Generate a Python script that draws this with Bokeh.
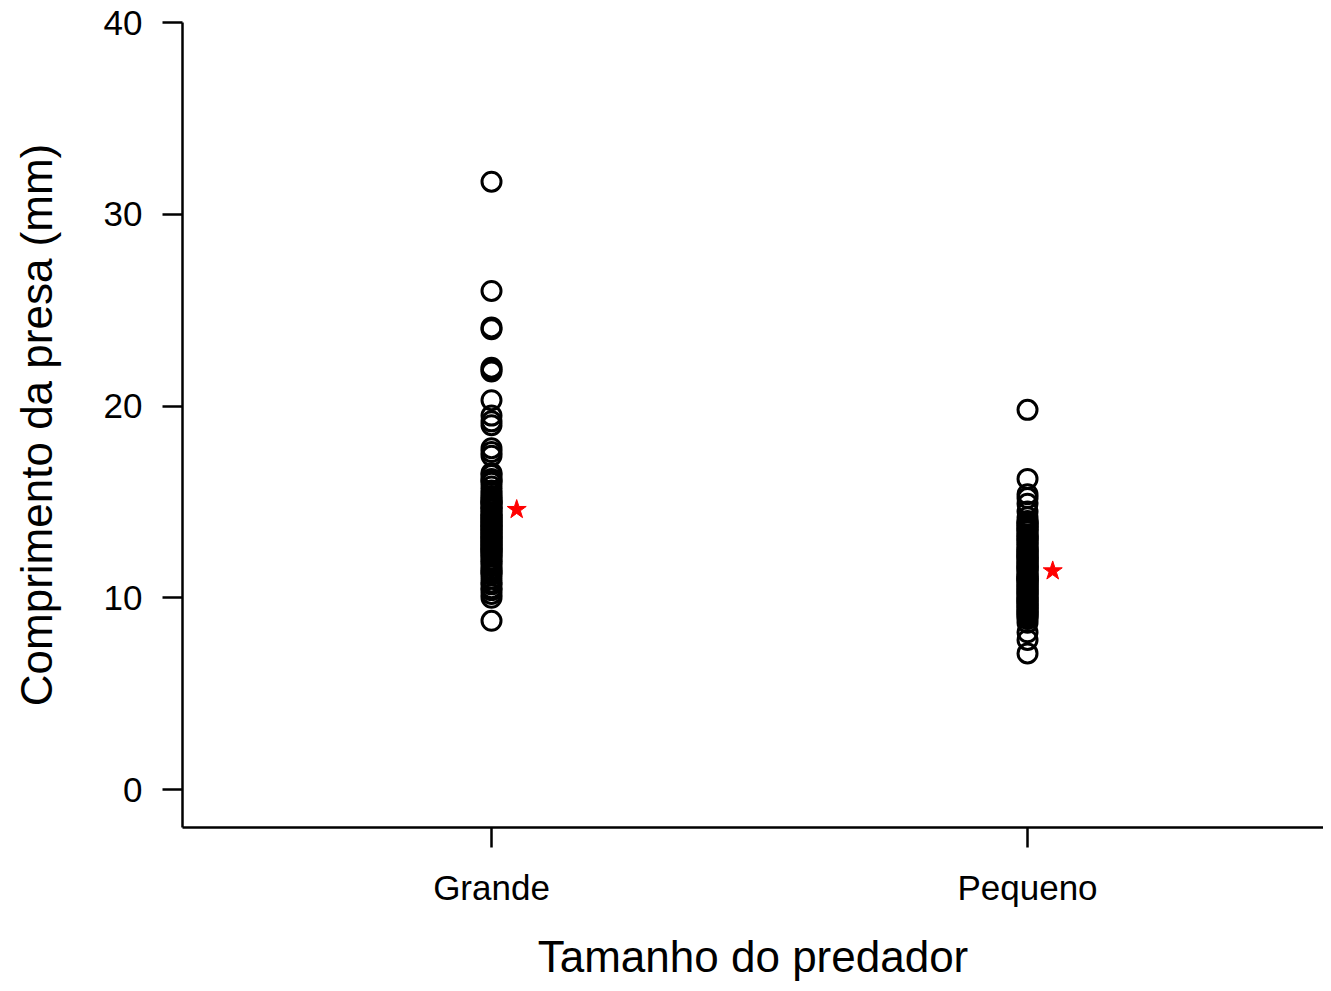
from bokeh.plotting import figure
from bokeh.models import Range1d, FixedTicker, ColumnDataSource
from bokeh.embed import file_html
from bokeh.resources import INLINE

categories = ["Grande", "Pequeno"]
grande = [31.7, 26.0, 24.0, 24.1, 22.0, 21.8, 21.9, 20.3, 19.5, 19.2, 19.0,
          17.8, 17.6, 17.4, 16.4, 16.2, 16.0, 15.6, 15.3, 15.0, 14.8, 14.6,
          14.3, 14.0, 13.8, 13.6, 13.3, 13.0, 12.8, 12.6, 12.3, 12.0, 11.5,
          11.2, 11.0, 10.5, 10.2, 10.0, 8.8,
          14.2, 13.9, 13.5, 13.1, 12.9, 12.5, 12.2, 11.8, 11.4, 10.8,
          15.2, 14.9, 14.7, 14.4, 14.1, 13.7, 13.4, 13.2, 12.7, 12.4,
          15.8, 16.1, 11.9, 11.3, 10.7, 10.4,
          15.1, 14.95, 14.65, 14.45, 14.25, 14.05, 13.85, 13.65, 13.45, 13.25,
          13.05, 12.85, 12.65, 12.45, 12.15, 16.5, 15.45, 11.65]
pequeno = [19.8, 16.2, 15.4, 15.2, 14.9, 14.5, 14.2, 14.0, 13.8, 13.5, 13.2,
           13.0, 12.8, 12.5, 12.2, 12.0, 11.8, 11.5, 11.2, 11.0, 10.8, 10.5,
           10.2, 10.0, 9.8, 9.5, 9.2, 9.0, 8.7, 8.2, 7.8, 7.1,
           12.4, 11.6, 11.0, 10.6, 10.3, 9.9, 9.6, 9.3,
           13.9, 13.6, 13.3, 13.1, 12.9, 12.6, 12.3, 12.1, 11.9, 11.7,
           11.4, 11.1, 10.9, 10.7, 10.4, 10.1, 9.7, 9.4, 9.1, 8.9,
           13.95, 13.75, 13.45, 13.25, 13.05, 12.75, 12.55, 12.35, 12.05, 11.85,
           11.65, 11.35, 11.15, 10.95, 10.65, 10.45, 10.25, 9.95, 9.75, 9.55,
           9.35, 9.15, 13.65, 12.15, 11.55, 10.85]
means = [14.6, 11.4]
y_ticks = [0, 10, 20, 30, 40]

FONT = "Liberation Sans"

xs, ys = [], []
for i, vals in enumerate([grande, pequeno]):
    xs += [i + 1] * len(vals)
    ys += vals
pts = ColumnDataSource(dict(x=xs, y=ys))
mean_src = ColumnDataSource(dict(x=[i + 1 + 0.047 for i in range(len(categories))], y=means))

p = figure(width=1323, height=983, output_backend="svg", toolbar_location=None,
           x_range=Range1d(0.4235, 2.5522), y_range=Range1d(-1.98, 40),
           min_border_left=182, min_border_right=0, min_border_top=22, min_border_bottom=156)
p.outline_line_color = None
p.xgrid.grid_line_color = None
p.ygrid.grid_line_color = None
p.background_fill_color = "white"

p.scatter("x", "y", source=pts, marker="circle", size=19, fill_color=None,
          line_color="black", line_width=3)
p.scatter("x", "y", source=mean_src, marker="star", size=20, fill_color="red",
          line_color="red", line_width=1)

p.xaxis.ticker = FixedTicker(ticks=[1, 2])
p.xaxis.major_label_overrides = {i + 1: c for i, c in enumerate(categories)}
p.yaxis.ticker = FixedTicker(ticks=y_ticks)
p.xaxis.minor_tick_line_color = None
p.yaxis.minor_tick_line_color = None

for ax in (p.xaxis[0], p.yaxis[0]):
    ax.axis_line_width = 2.5
    ax.axis_line_color = "black"
    ax.major_tick_line_width = 2.5
    ax.major_tick_line_color = "black"
    ax.major_tick_out = 20
    ax.major_tick_in = 0
    ax.major_label_text_font = FONT
    ax.major_label_text_font_size = "35px"
    ax.major_label_text_color = "black"
    ax.major_label_standoff = 20
    ax.axis_label_text_font = FONT
    ax.axis_label_text_font_size = "44px"
    ax.axis_label_text_font_style = "normal"
    ax.axis_label_text_color = "black"

p.xaxis.major_label_standoff = 20
p.xaxis.axis_label = "Tamanho do predador"
p.yaxis.axis_label = "Comprimento da presa (mm)"
p.xaxis.axis_label_standoff = 22
p.yaxis.axis_label_standoff = 40
p.yaxis.major_label_orientation = "horizontal"

open("out.html", "w").write(file_html(p, INLINE))
